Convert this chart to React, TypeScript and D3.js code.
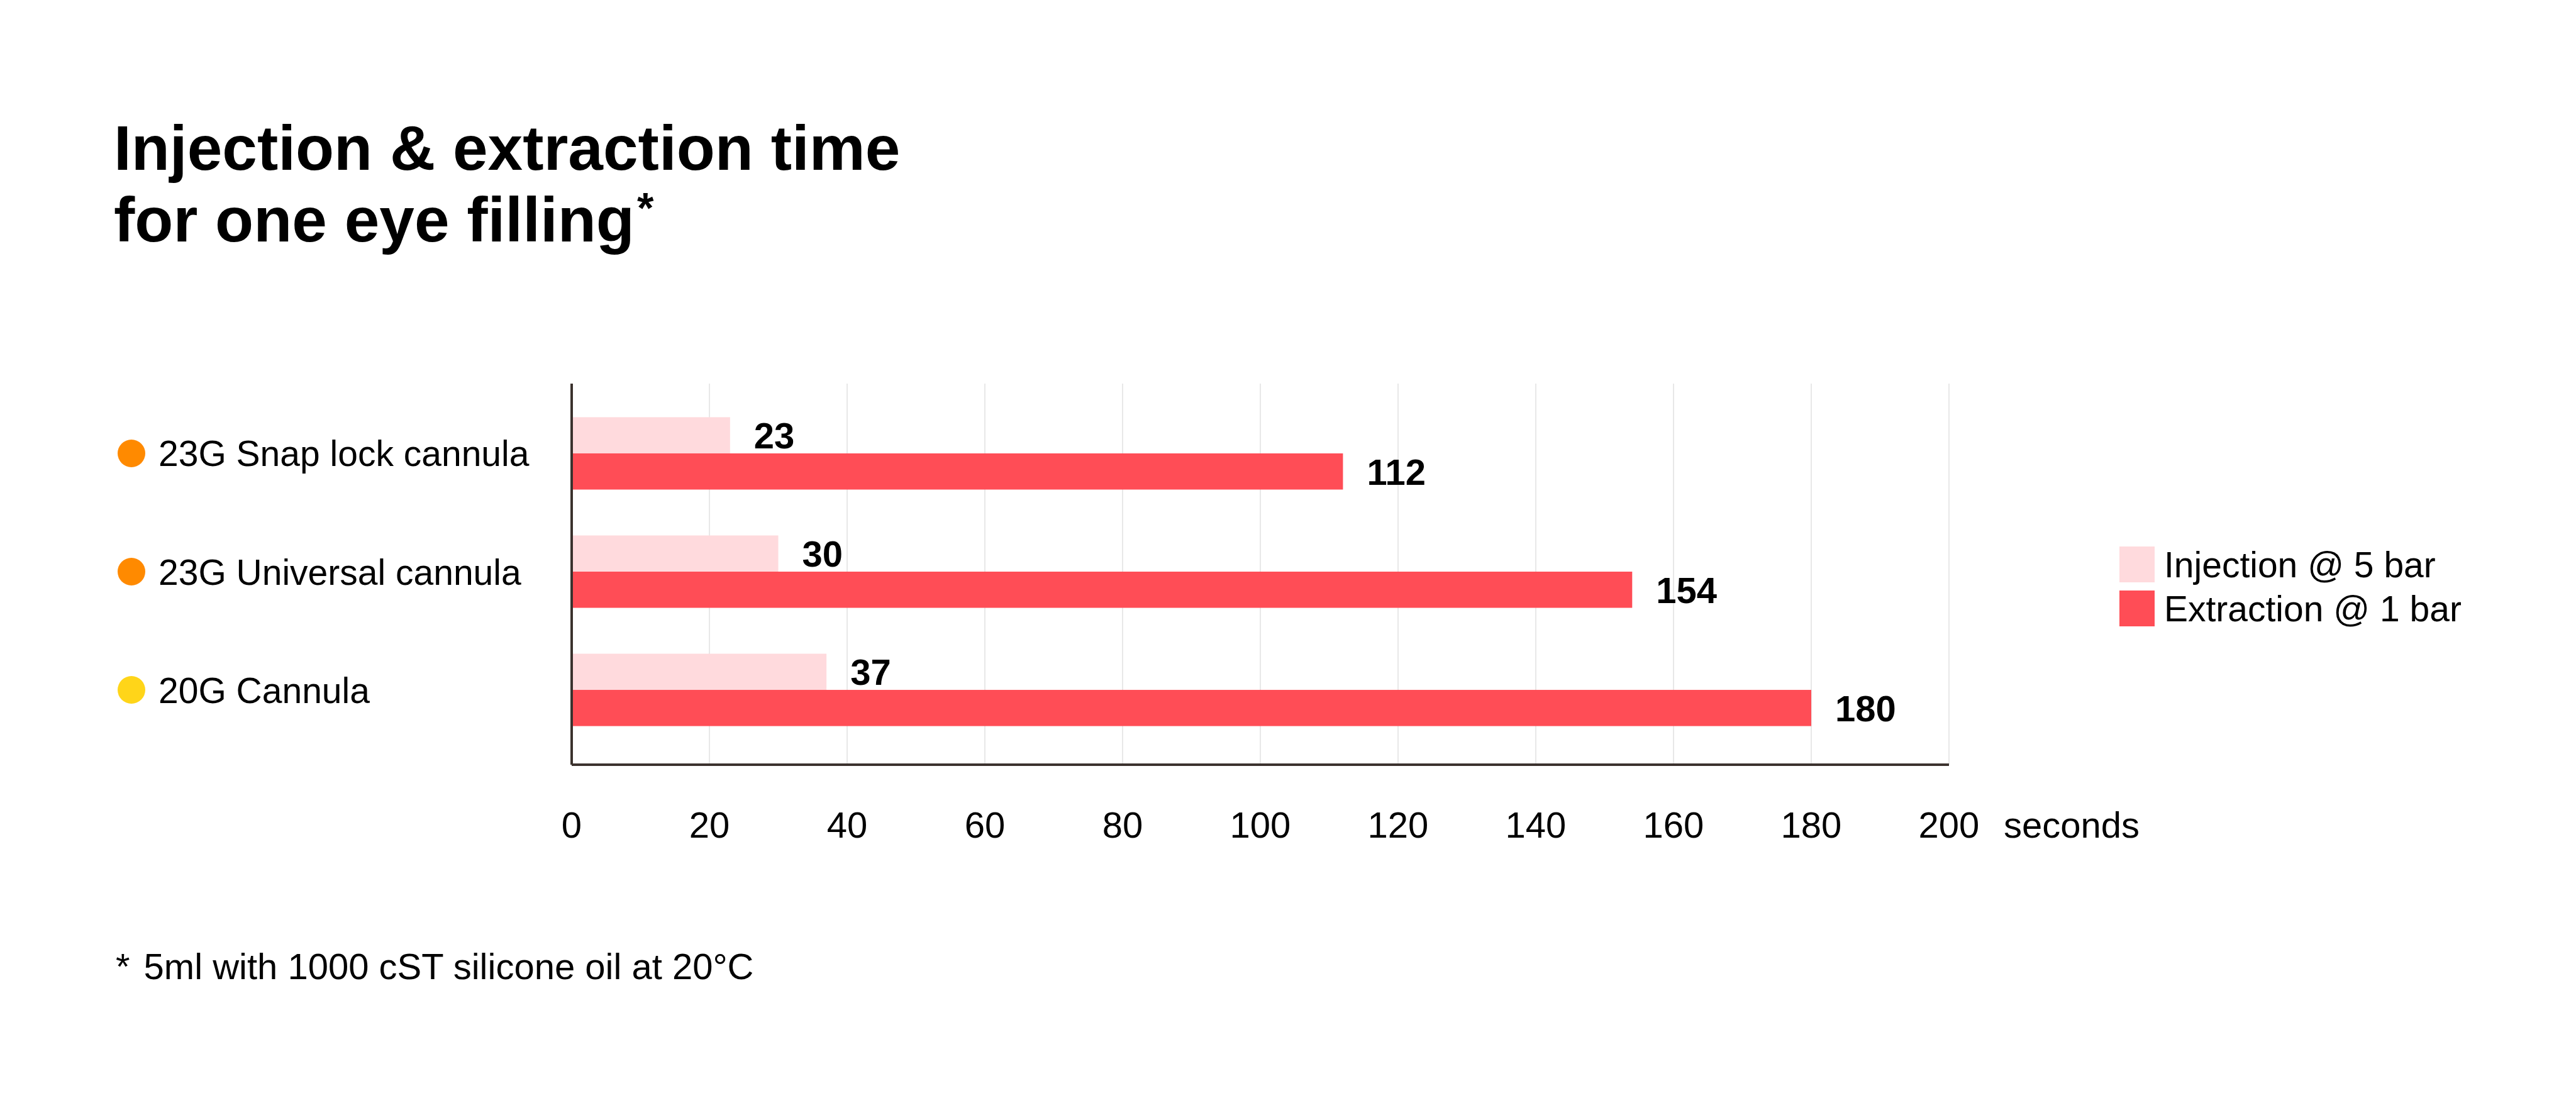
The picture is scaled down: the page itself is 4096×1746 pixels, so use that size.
import React from "react";
import * as d3 from "d3";

// chart data
const categories = ["23G Snap lock cannula", "23G Universal cannula", "20G Cannula"];
const categoryDots = ["#ff8a00", "#ff8a00", "#ffd519"];
const injection = [23, 30, 37];
const extraction = [112, 154, 180];
const seriesNames = ["Injection @ 5 bar", "Extraction @ 1 bar"];
const seriesColors = ["#ffdadd", "#ff4d56"];
const xTicks = [0, 20, 40, 60, 80, 100, 120, 140, 160, 180, 200];

const FONT = "'Liberation Sans', Arial, Helvetica, sans-serif";

const App = () => {
  const width = 4096;
  const height = 1746;

  // plot area
  const left = 909;
  const right = 3099;
  const top = 610;
  const bottom = 1216;

  const xScale = d3.scaleLinear().domain([0, 200]).range([left, right]);
  const yScale = d3
    .scaleBand<string>()
    .domain(categories)
    .range([607, 1211])
    .paddingInner(0.388)
    .paddingOuter(0.3);
  const subScale = d3
    .scaleBand<number>()
    .domain([0, 1])
    .range([0, yScale.bandwidth()]);

  const series = [injection, extraction];

  return (
    <svg
      width={width}
      height={height}
      style={{ position: "absolute", left: 0, top: 0, background: "#fff" }}
      fontFamily={FONT}
    >
      {/* title */}
      <text x={181} y={270} fontSize={100} fontWeight="bold" fill="#000">
        Injection &amp; extraction time
      </text>
      <text x={181} y={384} fontSize={100} fontWeight="bold" fill="#000">
        for one eye filling
        <tspan fontSize={68} dx={4} dy={-30}>*</tspan>
      </text>

      {/* grid */}
      {xTicks.slice(1).map((t) => (
        <line
          key={"g" + t}
          x1={xScale(t)}
          x2={xScale(t)}
          y1={top}
          y2={bottom}
          stroke="#e8e8e8"
          strokeWidth={2}
        />
      ))}

      {/* bars */}
      {categories.map((c, i) => (
        <g key={c} transform={`translate(0, ${yScale(c)})`}>
          {series.map((vals, s) => (
            <g key={s}>
              <rect
                x={xScale(0)}
                y={subScale(s)}
                width={xScale(vals[i]) - xScale(0)}
                height={subScale.bandwidth()}
                fill={seriesColors[s]}
              />
              <text
                x={xScale(vals[i]) + 38}
                y={(subScale(s) as number) + subScale.bandwidth() / 2}
                dy="0.36em"
                fontSize={58}
                fontWeight="bold"
                fill="#000"
              >
                {vals[i]}
              </text>
            </g>
          ))}
        </g>
      ))}

      {/* category labels */}
      {categories.map((c, i) => {
        const cy = (yScale(c) as number) + yScale.bandwidth() / 2;
        return (
          <g key={"l" + c}>
            <circle cx={209} cy={cy} r={22} fill={categoryDots[i]} />
            <text x={252} y={cy} dy="0.36em" fontSize={57} fill="#000">
              {c}
            </text>
          </g>
        );
      })}

      {/* axes */}
      <line x1={left} x2={left} y1={top} y2={bottom} stroke="#3b322e" strokeWidth={4} />
      <line x1={left} x2={right} y1={bottom} y2={bottom} stroke="#3b322e" strokeWidth={4} />
      {xTicks.map((t) => (
        <text
          key={"t" + t}
          x={xScale(t)}
          y={1332}
          textAnchor="middle"
          fontSize={58}
          fill="#000"
        >
          {t}
        </text>
      ))}
      <text x={3186} y={1332} fontSize={58} fill="#000">
        seconds
      </text>

      {/* legend */}
      {seriesNames.map((n, s) => (
        <g key={n} transform={`translate(3370, ${869 + s * 70})`}>
          <rect x={0} y={0} width={56} height={57} fill={seriesColors[s]} />
          <text x={71} y={49} fontSize={57} fill="#000">
            {n}
          </text>
        </g>
      ))}

      {/* footnote */}
      <text x={184} y={1557} fontSize={58} fill="#000">
        *<tspan dx={22}>5ml with 1000 cST silicone oil at 20°C</tspan>
      </text>
    </svg>
  );
};

export default App;
